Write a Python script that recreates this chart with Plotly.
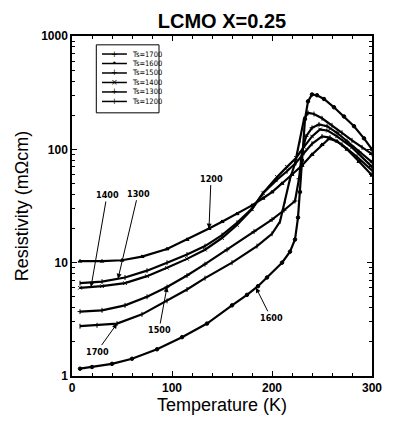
import numpy as np
import plotly.graph_objects as go

# ---- data ----
names = ["Ts=1700", "Ts=1600", "Ts=1500", "Ts=1400", "Ts=1300", "Ts=1200"]

T_1700 = [8, 25, 45, 70, 95, 115, 133, 160, 185, 200, 208, 213, 218, 223, 228, 232, 236, 242, 250, 260, 270, 280, 290, 300]
R_1700 = [2.75, 2.8, 2.9, 3.5, 4.6, 5.8, 7.3, 10, 14, 18, 23, 35, 55, 75, 120, 185, 210, 205, 188, 163, 140, 120, 104, 91]

T_1600 = [8, 20, 40, 60, 85, 110, 135, 160, 175, 186, 195, 210, 218, 223, 226, 228, 230, 233, 236, 240, 245, 252, 262, 272, 282, 292, 300]
R_1600 = [1.16, 1.2, 1.28, 1.42, 1.72, 2.2, 2.9, 4.2, 5.2, 6.2, 7.4, 10, 12.5, 16, 25, 42, 80, 185, 265, 305, 300, 278, 235, 195, 160, 125, 100]

T_1500 = [8, 30, 53, 75, 95, 115, 133, 155, 182, 200, 212, 223, 227, 230, 234, 240, 247, 255, 265, 275, 287, 300]
R_1500 = [3.7, 3.8, 4.2, 5.0, 6.1, 7.7, 9.7, 13, 18.8, 24, 29, 35, 55, 95, 130, 155, 166, 160, 140, 118, 95, 77]

T_1400 = [8, 30, 53, 75, 95, 115, 133, 150, 165, 180, 191, 205, 215, 224, 232, 240, 248, 256, 265, 280, 300]
R_1400 = [6.0, 6.2, 6.6, 7.6, 9.0, 10.8, 13, 16.5, 21.5, 29.5, 41, 57, 70, 84, 105, 130, 150, 146, 130, 104, 70]

T_1300 = [8, 30, 53, 75, 95, 115, 133, 150, 165, 180, 191, 205, 215, 224, 232, 240, 250, 258, 270, 285, 300]
R_1300 = [6.6, 6.8, 7.4, 8.5, 10, 11.8, 14, 17.5, 22.5, 30, 41, 54, 64, 76, 93, 112, 130, 127, 110, 86, 65]

T_1200 = [8, 30, 50, 70, 95, 115, 137, 150, 165, 180, 191, 200, 210, 220, 230, 240, 250, 257, 265, 275, 287, 300]
R_1200 = [10.3, 10.3, 10.5, 11.3, 13.2, 16, 20, 23, 27, 32, 37, 42, 50, 60, 72, 90, 110, 124, 118, 100, 78, 59]

series = [(T_1700, R_1700), (T_1600, R_1600), (T_1500, R_1500),
          (T_1400, R_1400), (T_1300, R_1300), (T_1200, R_1200)]
symbols = ["line-ns-open", "circle", "cross-thin-open", "x-thin-open", "line-ns-open", "triangle-up"]
legend_marks = ["+", "•", "+", "×", "+", "+"]

x_ticks = [0, 100, 200, 300]
y_ticks = [1, 10, 100, 1000]

# labels with arrows: (text, series index, temperature of arrow tip, ax, ay)
labels = [("1400", 3, 19, 16, -92), ("1300", 4, 46, 20, -85), ("1200", 5, 137, 2, -50),
          ("1500", 2, 95, -8, 43), ("1700", 0, 45, -20, 28), ("1600", 1, 184, 15, 30)]

fig = go.Figure()
for name, (t, r), sym in zip(names, series, symbols):
    fig.add_trace(go.Scatter(
        x=t, y=r, name=name, mode="lines+markers", showlegend=False,
        line=dict(color="black", width=2.2),
        marker=dict(symbol=sym, size=3.5, color="black", line=dict(color="black", width=1)),
    ))

annos = []
for txt, idx, tt, ax, ay in labels:
    t, r = series[idx]
    ylog = float(np.interp(tt, t, np.log10(r)))
    annos.append(dict(x=tt, y=ylog, xref="x", yref="y", text=txt, showarrow=True,
                      ax=ax, ay=ay, arrowhead=2, arrowsize=1, arrowwidth=1, arrowcolor="black",
                      font=dict(family="DejaVu Sans Condensed", size=9, color="black", weight="bold")))

# compact legend box (paper coordinates of the plot area)
shapes = [dict(type="rect", xref="paper", yref="paper", x0=0.081, x1=0.29, y0=0.774, y1=0.974,
               line=dict(color="black", width=1), fillcolor="white", layer="above")]
row0, step = 0.947, 0.0279
for i, (name, mk) in enumerate(zip(names, legend_marks)):
    yy = row0 - i * step
    shapes.append(dict(type="line", xref="paper", yref="paper", x0=0.10, x1=0.183, y0=yy, y1=yy,
                       line=dict(color="black", width=1.5), layer="above"))
    annos.append(dict(x=0.1415, y=yy, xref="paper", yref="paper", text=mk, showarrow=False,
                      xanchor="center", yanchor="middle",
                      font=dict(family="DejaVu Sans", size=8, color="black")))
    annos.append(dict(x=0.193, y=yy, xref="paper", yref="paper", text=name, showarrow=False,
                      xanchor="left", yanchor="middle",
                      font=dict(family="DejaVu Sans Condensed", size=7.5, color="black")))

axis_font = dict(family="Liberation Sans", size=12, color="black", weight="bold")

fig.update_layout(
    width=393, height=423,
    margin=dict(l=72, r=11, t=36, b=47),
    paper_bgcolor="white", plot_bgcolor="white",
    title=dict(text="<b>LCMO X=0.25</b>", x=0.5, xref="paper", y=1 - 21 / 423, yref="container",
               yanchor="middle", xanchor="center",
               font=dict(family="Liberation Sans", size=20, color="black")),
    showlegend=False,
    annotations=annos,
    shapes=shapes,
)
fig.update_xaxes(range=[0, 300], tickvals=x_ticks, ticks="inside", ticklen=5, tickcolor="black",
                 showline=True, linecolor="black", linewidth=1.5, mirror="ticks", showgrid=False,
                 zeroline=False, tickfont=axis_font,
                 minor=dict(dtick=20, ticks="inside", ticklen=3, tickcolor="black", showgrid=False),
                 title=dict(text="Temperature (K)", standoff=0,
                            font=dict(family="Liberation Sans", size=18, color="black")))
fig.update_yaxes(type="log", range=[0, 3], tickvals=y_ticks, ticktext=[str(v) for v in y_ticks],
                 ticks="inside", ticklen=5, tickcolor="black",
                 showline=True, linecolor="black", linewidth=1.5, mirror="ticks", showgrid=False,
                 zeroline=False, tickfont=axis_font,
                 minor=dict(ticks="inside", ticklen=3, tickcolor="black", showgrid=False,
                            tickvals=[m * 10 ** e for e in range(3) for m in range(2, 10)]),
                 title=dict(text="Resistivity (mΩcm)", standoff=8,
                            font=dict(family="Liberation Sans", size=18, color="black")))

fig.write_html("out.html")
